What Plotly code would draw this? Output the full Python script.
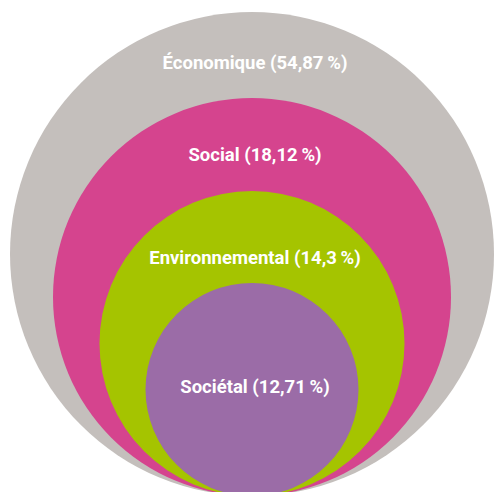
import plotly.graph_objects as go

# Share of each dimension, outermost to innermost
categories = ["Économique", "Social", "Environnemental", "Sociétal"]
values = ["54,87", "18,12", "14,3", "12,71"]
colors = ["#C4BFBC", "#D5448E", "#A5C400", "#9B6CA7"]

# Nested circles all touching at a common bottom point (canvas units)
radii = [242, 199, 152.5, 106.5]
label_y = [64, 156, 259, 388]
cx, bottom = 252, 496

W, H = 494, 492

fig = go.Figure()

shapes = []
for r, c in zip(radii, colors):
    shapes.append(dict(
        type="circle", xref="x", yref="y",
        x0=cx - r, x1=cx + r, y0=bottom - 2 * r, y1=bottom,
        fillcolor=c, line=dict(width=0), layer="below",
    ))

labels = [f"{cat} ({val}\u2009%)" for cat, val in zip(categories, values)]
fig.add_trace(go.Scatter(
    x=[cx + 3] * len(labels), y=label_y, mode="text", text=labels,
    textfont=dict(family="Roboto, sans-serif",
                  size=18.5, color="white", weight="bold"),
    textposition="middle center", hoverinfo="skip", showlegend=False,
))

fig.update_layout(
    width=W, height=H, margin=dict(l=0, r=0, t=0, b=0),
    paper_bgcolor="white", plot_bgcolor="white",
    shapes=shapes,
    xaxis=dict(range=[0, W], visible=False, fixedrange=True),
    yaxis=dict(range=[H, 0], visible=False, fixedrange=True),
)

fig.write_html("out.html")
